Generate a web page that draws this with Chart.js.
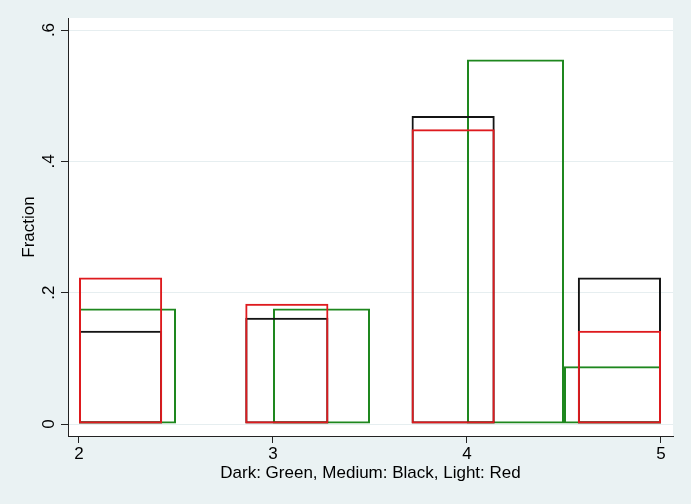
<!DOCTYPE html>
<html>
<head>
<meta charset="utf-8">
<script src="https://cdn.jsdelivr.net/npm/chart.js@4"></script>
<style>
html,body{margin:0;padding:0;background:#fff;}
#wrap{width:695px;height:504px;}
canvas{display:block;}
</style>
</head>
<body>
<div id="wrap"><canvas id="c" width="695" height="504"></canvas></div>
<script>
// Bin edges of the two histograms (7 narrow bins, 6 wide bins between 2 and 5)
const narrowBinEdges = [2, 2.4286, 2.8571, 3.2857, 3.7143, 4.1429, 4.5714, 5];
const wideBinEdges   = [2, 2.5, 3, 3.5, 4, 4.5, 5];

// Fractions per bin
const blackFractions = [0.142, 0, 0.162, 0, 0.469, 0, 0.223];
const redFractions   = [0.223, 0, 0.183, 0, 0.449, 0, 0.142];
const greenFractions = [0.176, 0, 0.176, 0, 0.555, 0.088];

// Axis ticks
const xTickValues = [2, 3, 4, 5];
const xTickLabels = ['2', '3', '4', '5'];
const yTickValues = [0, 0.2, 0.4, 0.6];
const yTickLabels = ['0', '.2', '.4', '.6'];

const xTitle = 'Dark: Green, Medium: Black, Light: Red';
const yTitle = 'Fraction';

const FONT = '"Liberation Sans", Arial, Helvetica, sans-serif';

function toPoints(edges, values) {
  return values.map((v, i) => ({ x: (edges[i] + edges[i + 1]) / 2, y: v }));
}

const X_MIN = 1.9433, X_MAX = 5.0619;
const Y_MIN = -0.01827, Y_MAX = 0.6183;

const barStyle = {
  backgroundColor: 'rgba(0,0,0,0)',
  borderWidth: 2,
  borderSkipped: false,
  inflateAmount: 0,
  barPercentage: 1,
  categoryPercentage: 1,
  grouped: false
};

const stataFrame = {
  id: 'stataFrame',
  beforeDraw(chart) {
    const { ctx, chartArea: a } = chart;
    ctx.save();
    ctx.fillStyle = '#ffffff';
    ctx.fillRect(0, 0, chart.width, chart.height);
    ctx.fillStyle = '#EAF2F3';
    ctx.fillRect(0, 0, 691, chart.height);
    ctx.fillStyle = '#ffffff';
    ctx.fillRect(a.left, a.top, a.right - a.left, a.bottom - a.top);
    ctx.restore();
  },
  afterDraw(chart) {
    const { ctx } = chart;
    const ys = chart.scales.y;
    ctx.save();
    ctx.font = '17px ' + FONT;
    ctx.fillStyle = '#000';
    ctx.textAlign = 'center';
    ctx.textBaseline = 'alphabetic';
    yTickValues.forEach((v, i) => {
      const py = ys.getPixelForValue(v);
      ctx.save();
      ctx.translate(53.5, py);
      ctx.rotate(-Math.PI / 2);
      ctx.fillText(yTickLabels[i], 0, 0);
      ctx.restore();
    });
    ctx.restore();
  }
};

const fixedTicks = vals => s => { s.ticks = vals.map(v => ({ value: v })); };

new Chart(document.getElementById('c'), {
  type: 'bar',
  data: {
    datasets: [
      Object.assign({ label: 'Light', data: toPoints(narrowBinEdges, redFractions),
        borderColor: 'rgb(222,26,30)', xAxisID: 'x' }, barStyle),
      Object.assign({ label: 'Medium', data: toPoints(narrowBinEdges, blackFractions),
        borderColor: 'rgb(20,20,20)', xAxisID: 'x' }, barStyle),
      Object.assign({ label: 'Dark', data: toPoints(wideBinEdges, greenFractions),
        borderColor: 'rgb(30,135,30)', xAxisID: 'x2' }, barStyle)
    ]
  },
  options: {
    responsive: false,
    animation: false,
    devicePixelRatio: 1,
    layout: { padding: { left: 0, top: 18, right: 22, bottom: 0 } },
    plugins: { legend: { display: false }, tooltip: { enabled: false } },
    scales: {
      x: {
        type: 'linear', position: 'bottom', min: X_MIN, max: X_MAX, offset: false,
        afterBuildTicks: fixedTicks(xTickValues),
        afterFit: s => { s.height = 68; },
        ticks: {
          callback: v => xTickLabels[xTickValues.indexOf(v)],
          font: { family: FONT, size: 17 }, color: '#000', padding: 1,
          maxRotation: 0, minRotation: 0, autoSkip: false
        },
        grid: { offset: false, drawOnChartArea: false, drawTicks: true, tickLength: 7, tickColor: '#222', tickWidth: 1 },
        border: { display: true, color: '#222', width: 1 },
        title: { display: true, text: xTitle, color: '#000',
          font: { family: FONT, size: 17 }, padding: { top: 0, bottom: 20.8 } }
      },
      x2: {
        type: 'linear', position: 'bottom', min: X_MIN, max: X_MAX, offset: false, display: false,
        grid: { offset: false },
        afterBuildTicks: fixedTicks(xTickValues)
      },
      y: {
        type: 'linear', position: 'left', min: Y_MIN, max: Y_MAX,
        afterBuildTicks: fixedTicks(yTickValues),
        afterFit: s => { s.width = 68; },
        ticks: { display: false },
        grid: { color: '#E6EEF0', lineWidth: 1, drawTicks: true, tickLength: 7, tickColor: '#222', tickWidth: 1 },
        border: { display: true, color: '#222', width: 1 },
        title: { display: true, text: yTitle, color: '#000',
          font: { family: FONT, size: 17 }, padding: { top: 18.8, bottom: 0 } }
      }
    }
  },
  plugins: [stataFrame]
});
</script>
</body>
</html>
